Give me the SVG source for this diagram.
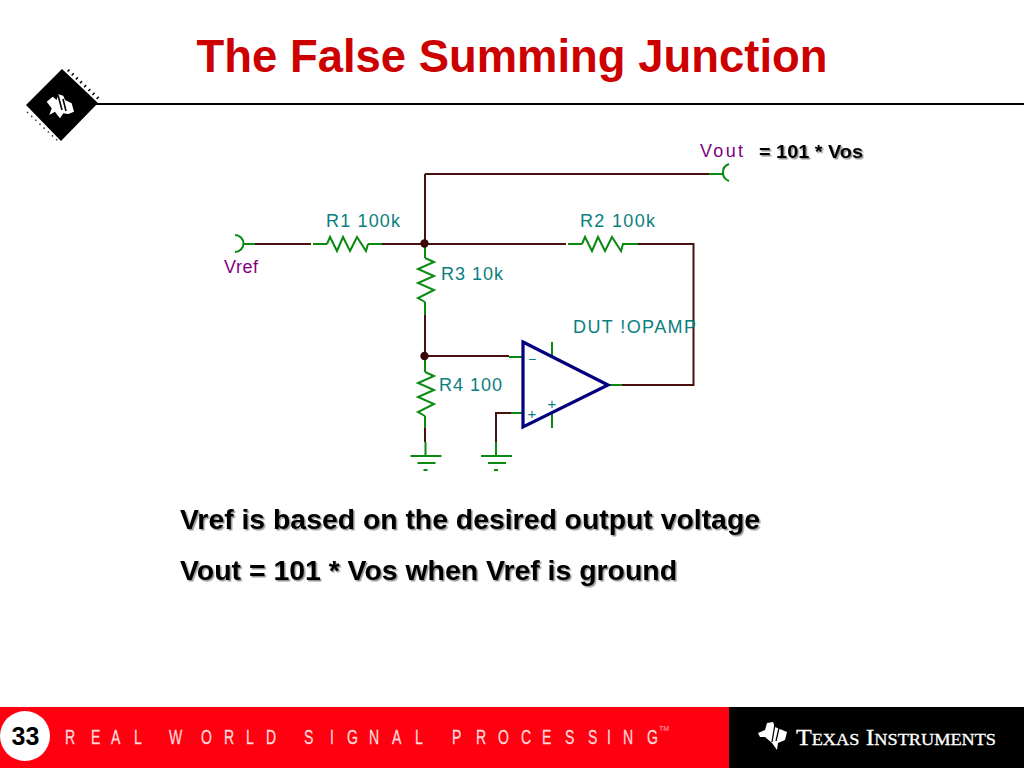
<svg xmlns="http://www.w3.org/2000/svg" width="1024" height="768" viewBox="0 0 1024 768">
<style>
text{font-family:"Liberation Sans",Arial,sans-serif}
.w{fill:none;stroke:#4a1010;stroke-width:2}
.g{fill:none;stroke:#0b8a12;stroke-width:2}
.l{font-size:18px;fill:#0a8080}
.p{font-size:18px;fill:#800080}
.b{font-weight:bold;fill:#000;filter:url(#sh)}
.d{fill:#3a0808}
</style>
<defs>
<filter id="sh" x="-5%" y="-20%" width="110%" height="150%"><feDropShadow dx="1.500" dy="1.500" stdDeviation="0.600" flood-color="#000" flood-opacity="0.42"/></filter>
<path id="rh" d="M0 0L3-7 10 7 16-7 23 7 30-7 39 7 41 0"/>
<path id="rv" d="M0 0L9 4-7 11 9 18-7 25 9 32-7 40 0 44"/>
<g id="gnd"><path d="M0 0V14M-15 14H16M-8 21H10"/><path d="M-2 28H2"/></g>
</defs>
<rect width="1024" height="768" fill="#fff"/>

<g id="header">
<text x="512" y="72" text-anchor="middle" font-size="46" font-weight="bold" fill="#cc0000" textLength="631" lengthAdjust="spacingAndGlyphs">The False Summing Junction</text>
<line x1="95" y1="104" x2="1024" y2="104" stroke="#000" stroke-width="2"/>
<g id="chip-logo">
<polygon points="62,69 98,103 61,141 26,105" fill="#000"/>
<path d="M68 70L100 100" stroke="#000" stroke-width="3" stroke-dasharray="1.500 4.200" fill="none"/>
<path d="M27 112L59 142" stroke="#333" stroke-width="1.500" stroke-dasharray="1.500 4.200" fill="none"/>
<polygon points="46.700,101.700 52.700,96.700 56.700,100 58.300,94.300 63.300,95.700 65,100 71.700,103.300 74,111.700 68.300,114 63.300,113.300 60,118.300 57.300,115 55,111.700 49.300,115 51.700,108.300" fill="#fff"/>
<path d="M58 95L62 110M63 99L66 111" stroke="#000" stroke-width="1.600" fill="none"/>
</g>
</g>

<g id="connectors">
<path class="w" d="M255 244H311M382 244H425M425 244H566M638 244H693.500V385H622M425 174V244M709 174H425M425 315V356M425 356H509M425 428V442M496 442V413H511"/>
<path class="g" d="M243 244H255M313 244H327M368 244H382M568 244H582M622 244H638M425 247V258M425 302V315M425 416V428M511 413H523M509 357H523M608 385H622M709 174H723M425 359V372"/>
</g>

<g id="Vref"><path class="g" d="M235 235A8.500 8.500 0 0 1 235 252"/><text class="p" x="224" y="273" textLength="34">Vref</text></g>
<g id="Vout"><path class="g" d="M729 164A9 9 0 0 0 729 181"/><text class="p" x="700" y="157" textLength="43">Vout</text><text class="b" x="759" y="158" font-size="19" textLength="104" lengthAdjust="spacingAndGlyphs">= 101 * Vos</text></g>
<g id="R1"><use href="#rh" x="327" y="244" class="g"/><text class="l" x="326" y="227" textLength="74">R1 100k</text></g>
<g id="R2"><use href="#rh" x="582" y="244" class="g"/><text class="l" x="580" y="227" textLength="75">R2 100k</text></g>
<g id="R3"><use href="#rv" x="425" y="258" class="g"/><text class="l" x="441" y="280" textLength="62">R3 10k</text></g>
<g id="R4"><use href="#rv" x="425" y="372" class="g"/><text class="l" x="439" y="391" textLength="63">R4 100</text></g>
<g id="node-top"><circle class="d" cx="424.500" cy="243.500" r="4.200"/></g>
<g id="node-mid"><circle class="d" cx="424.500" cy="356" r="4.200"/></g>
<g id="gnd1"><use href="#gnd" x="425.500" y="442" class="g"/></g>
<g id="gnd2"><use href="#gnd" x="496" y="442" class="g"/></g>
<g id="DUT">
<path class="g" d="M552 342V356M552 412V428"/>
<polygon points="523,342 608,385 523,427" fill="none" stroke="#00007f" stroke-width="3.200" stroke-linejoin="miter"/>
<text class="l" x="573" y="333" textLength="123">DUT !OPAMP</text>
<text x="532" y="364" text-anchor="middle" font-size="14" fill="#0a8080">−</text>
<text x="532" y="419" text-anchor="middle" font-size="15" fill="#0a8080">+</text>
<text x="552" y="409" text-anchor="middle" font-size="15" fill="#0a8080">+</text>
</g>

<g id="notes">
<text class="b" x="180" y="529" font-size="28" textLength="580" lengthAdjust="spacingAndGlyphs">Vref is based on the desired output voltage</text>
<text class="b" x="180" y="580" font-size="28" textLength="497" lengthAdjust="spacingAndGlyphs">Vout = 101 * Vos when Vref is ground</text>
</g>

<g id="footer">
<rect x="0" y="707" width="729" height="61" fill="#ff0010"/>
<rect x="729" y="707" width="295" height="61" fill="#000"/>
<circle cx="25" cy="736" r="25" fill="#fff"/>
<text x="25.500" y="745" text-anchor="middle" font-size="25" font-weight="bold" fill="#000">33</text>
<text transform="scale(.72 1)" y="744" font-size="19.500" fill="#ffd8d8" stroke="#ffd8d8" stroke-width="0.300" x="90.300 126.400 154.200 186.100 208.300 234.700 279.200 311.100 341.700 369.400 395.800 422.200 458.300 481.900 512.500 544.400 576.400 604.200 627.800 661.100 691.700 723.600 752.800 784.700 816.700 843.100 865.300 898.600">REAL WORLD SIGNAL PROCESSING</text>
<text x="659" y="731" font-size="7" fill="#ffb0b0">TM</text>
<g id="ti-logo">
<polygon points="758,733 765,730 767,723 773,722 775,727 787,732 785,740 778,743 777,750 772,743 765,737 760,737" fill="#fff"/>
<path d="M775 724L772 742M779 728L776 741" stroke="#000" stroke-width="1.300" fill="none"/>
<text x="796" y="745" font-size="24" fill="#fff" stroke="#fff" stroke-width="0.300" textLength="200" lengthAdjust="spacingAndGlyphs" style="font-family:'Liberation Serif',serif;font-variant:small-caps">Texas Instruments</text>
</g>
</g>
</svg>
